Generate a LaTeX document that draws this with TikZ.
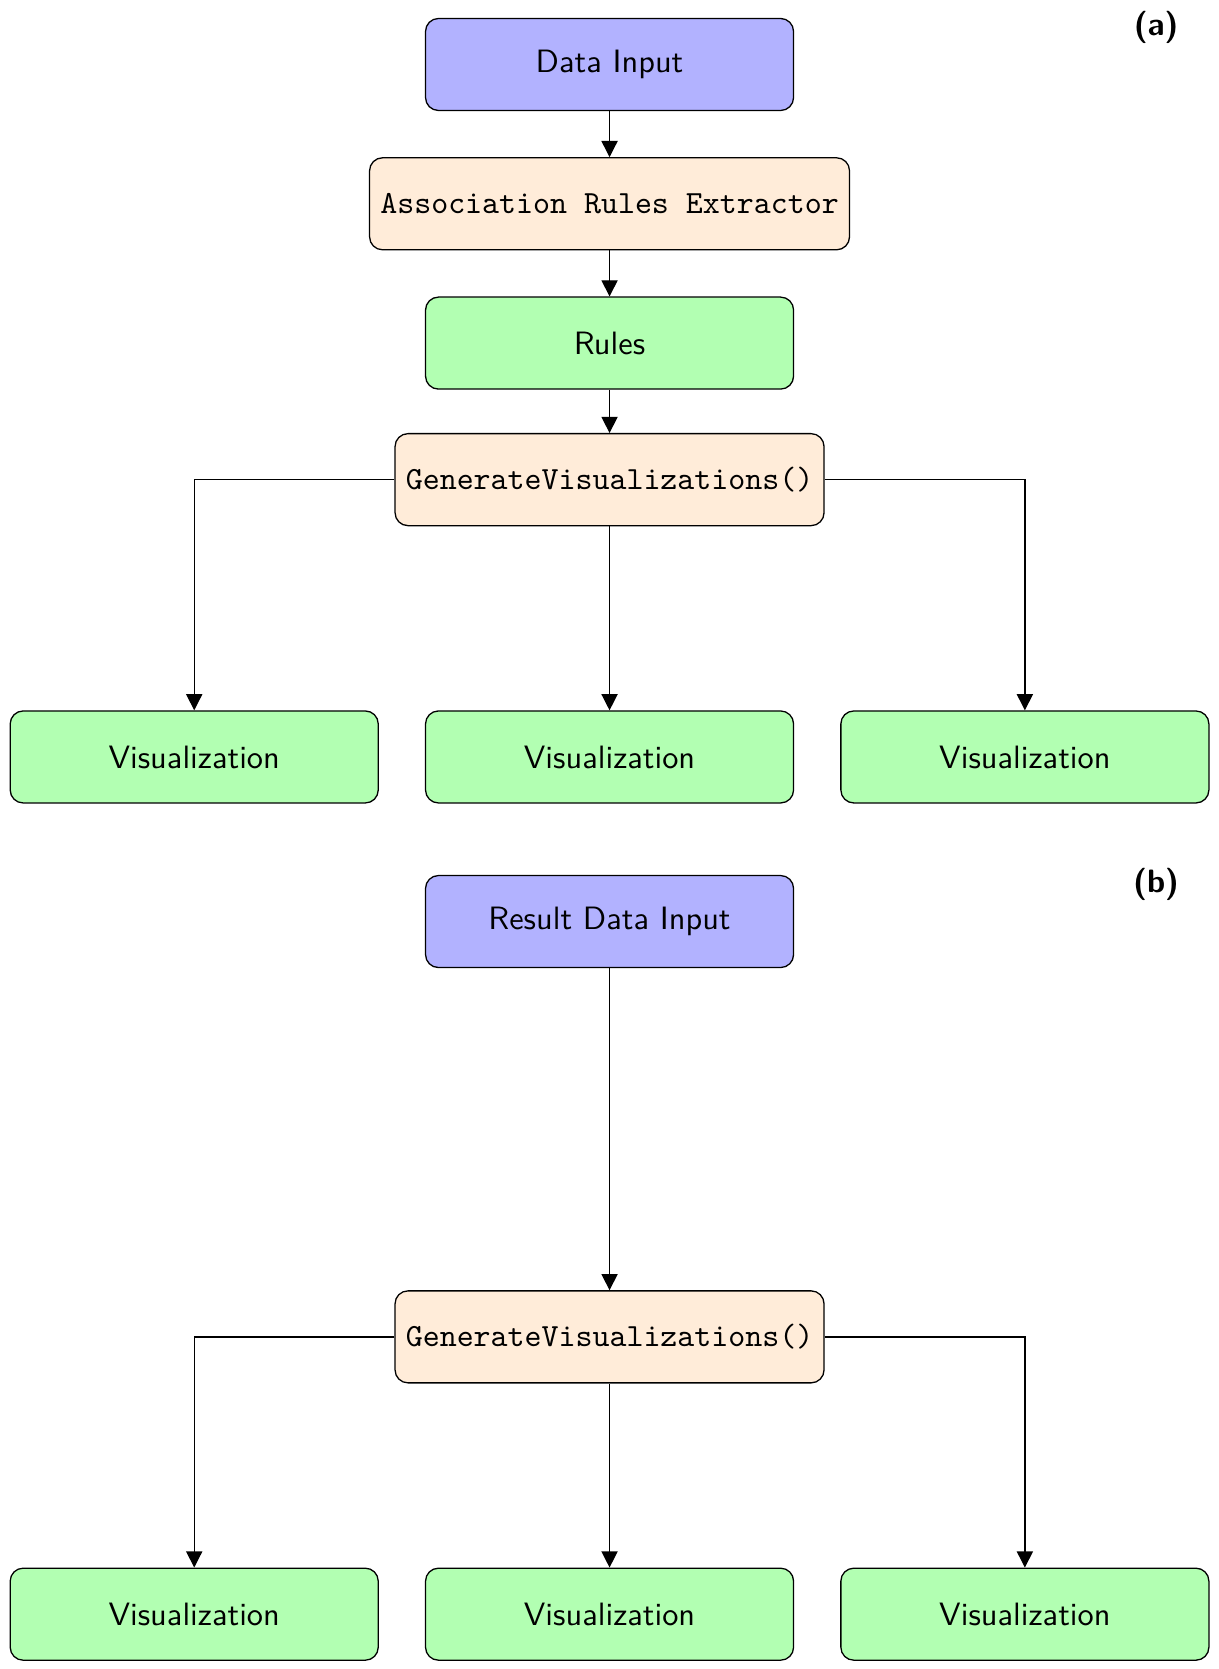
\documentclass[tikz,border=0pt]{standalone}
\usetikzlibrary{positioning,arrows.meta}

\begin{document}
\begin{tikzpicture}[
    box/.style={draw,rounded corners,minimum width=4cm,minimum height=1cm,font=\sffamily},
    inbox/.style={box,fill=blue!30},
    procbox/.style={box,fill=orange!15,font=\ttfamily},
    outbox/.style={box,fill=green!30},
    arr/.style={-{Triangle[length=5pt,width=5pt]}},
    tag/.style={font=\sffamily\bfseries},
    node distance=0.5cm
  ]
    \useasboundingbox (0,0) rectangle (13.24,-18.14);

    % (a) rules are extracted first
    \node[tag] (taga) at (12.565,-0.293) {(a)};
    \node[inbox] (input) at (6.625,-0.701) {Data Input};
    \node[procbox, below=of input] (extractor) {Association Rules Extractor};
    \node[outbox, below=of extractor] (rules) {Rules};
    \node[procbox, below=0.47cm of rules] (gena) {GenerateVisualizations()};
    \node[outbox, below=2cm of gena] (visa2) {Visualization};
    \node[outbox, left=of visa2] (visa1) {Visualization};
    \node[outbox, right=of visa2] (visa3) {Visualization};

    \draw[arr] (input) -- (extractor);
    \draw[arr] (extractor) -- (rules);
    \draw[arr] (rules) -- (gena);
    \draw[arr] (gena.west) -| (visa1.north);
    \draw[arr] (gena) -- (visa2);
    \draw[arr] (gena.east) -| (visa3.north);

    % (b) results given directly
    \node[tag] (tagb) at (12.565,-9.61) {(b)};
    \node[inbox] (result) at (6.625,-10.016) {Result Data Input};
    \node[procbox, below=3.5cm of result] (genb) {GenerateVisualizations()};
    \node[outbox, below=2cm of genb] (visb2) {Visualization};
    \node[outbox, left=of visb2] (visb1) {Visualization};
    \node[outbox, right=of visb2] (visb3) {Visualization};

    \draw[arr] (result) -- (genb);
    \draw[arr] (genb.west) -| (visb1.north);
    \draw[arr] (genb) -- (visb2);
    \draw[arr] (genb.east) -| (visb3.north);
\end{tikzpicture}
\end{document}
